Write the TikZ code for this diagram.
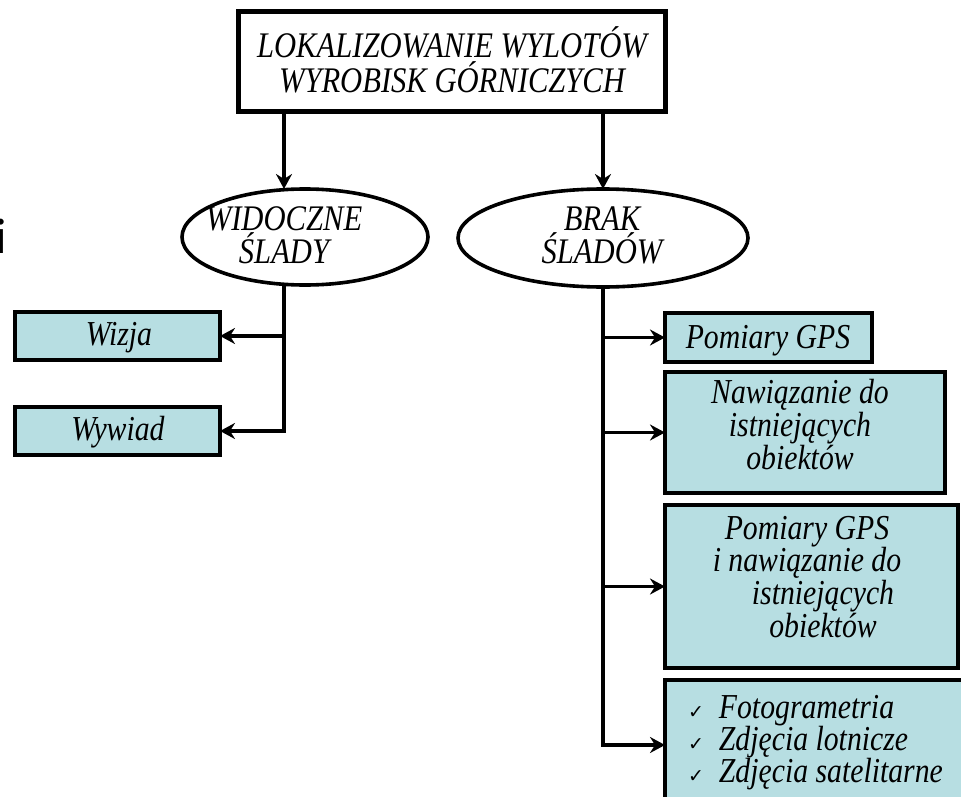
\documentclass[tikz,border=0pt]{standalone}
\usepackage{fontspec}
\setmainfont{Liberation Serif}[FakeStretch=0.85]
\newfontfamily\symfont{DejaVu Sans}
\newfontfamily\carl{Carlito}
\usetikzlibrary{arrows.meta,shapes.geometric}
\definecolor{boxfill}{RGB}{183,222,226}
\begin{document}
\begin{tikzpicture}[x=1pt,y=-1pt,
  every node/.style={inner sep=0pt, outer sep=0pt},
  conn/.style={line width=3.8pt, -{Stealth[length=15pt,width=16pt,inset=5pt]}},
  topbox/.style={draw, line width=5pt, fill=white},
  bluebox/.style={draw, line width=4.6pt, fill=boxfill},
  ell/.style={draw, ellipse, line width=3.6pt, fill=white},
  headtxt/.style={font=\itshape\fontsize{36}{35}\selectfont, align=center},
  elltxt/.style={font=\itshape\fontsize{36}{32.5}\selectfont, align=center},
  bodytxt/.style={font=\itshape\fontsize{35}{31}\selectfont, align=center},
  chk/.style={},
]
\useasboundingbox (0,0) rectangle (961,797);
\clip (0,0) rectangle (961,797);

% fragment of a letter at the left edge
\node[font=\carl\fontsize{50}{50}\selectfont, anchor=base east] (ifrag) at (6.5,253) {i};

% top box
\node[topbox, minimum width=427pt, minimum height=100pt] (top) at (451.5,62) {};
\node[headtxt, anchor=base] (toptxt) at (452,93) {LOKALIZOWANIE WYLOTÓW\\WYROBISK GÓRNICZYCH};

% ellipses
\node[ell, minimum width=246pt, minimum height=96pt] (ew) at (305,237) {};
\node[elltxt, anchor=base] (tw) at (284,263) {WIDOCZNE\\ŚLADY};
\node[ell, minimum width=290pt, minimum height=98pt] (eb) at (603,238) {};
\node[elltxt, anchor=base] (tb) at (602,263) {BRAK\\ŚLADÓW};

% left boxes
\node[bluebox, minimum width=205pt, minimum height=48pt] (wiz) at (117.5,336) {};
\node[bodytxt, anchor=base] (wizt) at (119,345) {Wizja};
\node[bluebox, minimum width=205pt, minimum height=48pt] (wyw) at (117.5,431) {};
\node[bodytxt, anchor=base] (wywt) at (118,440) {Wywiad};

% right boxes
\node[bluebox, minimum width=207pt, minimum height=49pt] (gps) at (768.5,337.5) {};
\node[bodytxt, anchor=base] (gpst) at (768,348) {Pomiary GPS};
\node[bluebox, minimum width=280pt, minimum height=121pt] (naw) at (805,432.5) {};
\node[bodytxt, anchor=base] (nawt) at (800,469) {Nawiązanie do\\istniejących\\obiektów};
\node[bluebox, minimum width=293pt, minimum height=163pt] (both) at (811.5,586.5) {};
\node[bodytxt, font=\itshape\fontsize{35}{30}\selectfont, anchor=base] (botht) at (807,637)
  {Pomiary GPS\\i nawiązanie do\\\hspace*{32pt}istniejących\\\hspace*{32pt}obiektów};
\node[bluebox, minimum width=310pt, minimum height=130pt] (lst) at (820,745) {};
\node[bodytxt, font=\itshape\fontsize{35}{32}\selectfont, align=left, anchor=base west] (lstt) at (688,782)
  {{\symfont\upshape\fontsize{19}{19}\selectfont ✓}\hspace{15pt}Fotogrametria\\
   {\symfont\upshape\fontsize{19}{19}\selectfont ✓}\hspace{15pt}Zdjęcia lotnicze\\
   {\symfont\upshape\fontsize{19}{19}\selectfont ✓}\hspace{15pt}Zdjęcia satelitarne};

% connectors
\draw[conn] (top.south -| tw) -- (tw |- ew.north);
\draw[conn] (top.south -| eb) -- (eb.north);
\draw[conn] (tw |- ew.south) |- (wiz.east);
\draw[conn] (tw |- ew.south) |- (wyw.east);
\draw[conn] (eb.south) |- (gps.west);
\draw[conn] (eb.south) |- (naw.west);
\draw[conn] (eb.south) |- (both.west);
\draw[conn] (eb.south) |- (lst.west);
\end{tikzpicture}
\end{document}
